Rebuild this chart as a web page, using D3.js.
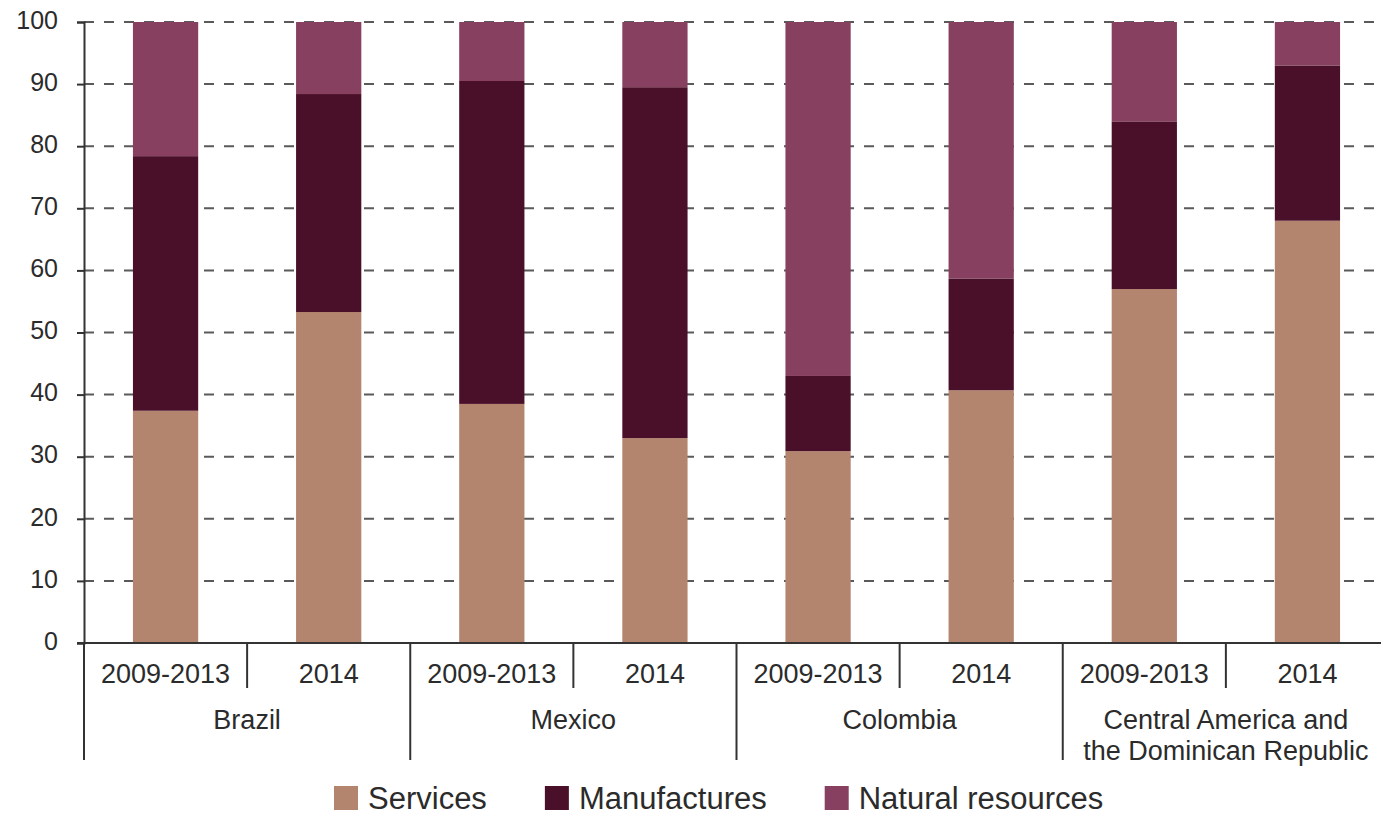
<!DOCTYPE html>
<html>
<head>
<meta charset="utf-8">
<script src="https://cdn.jsdelivr.net/npm/d3@7"></script>
<style>
  html, body { margin: 0; padding: 0; background: #fff; }
  svg { display: block; font-family: "Liberation Sans", Arial, sans-serif; }
</style>
</head>
<body>
<svg id="chart" width="1381" height="815"></svg>
<script>
// Export composition by country group and period (percentages)
const groups = ["Brazil", "Mexico", "Colombia", "Central America and|the Dominican Republic"];
const periods = ["2009-2013", "2014"];
const services      = [37.4, 53.3, 38.5, 33.0, 30.9, 40.7, 57.0, 68.0];
const manufactures  = [41.0, 35.1, 52.0, 56.5, 12.1, 18.0, 27.0, 25.0];
const naturalRes    = [21.6, 11.6,  9.5, 10.5, 57.0, 41.3, 16.0,  7.0];
const seriesNames   = ["Services", "Manufactures", "Natural resources"];
const seriesColors  = ["#b3856f", "#4b1029", "#87405f"];
const yTicks = [0, 10, 20, 30, 40, 50, 60, 70, 80, 90, 100];

const svg = d3.select("#chart");
const W = 1381;
const plotLeft = 84, plotTop = 22, plotBottom = 643;

// one bar per (group, period)
const bars = [];
groups.forEach((g, gi) => periods.forEach((p, pi) => {
  const i = gi * periods.length + pi;
  bars.push({ key: g + "/" + p, group: g, period: p, gi, pi,
              values: [services[i], manufactures[i], naturalRes[i]] });
}));

const x = d3.scaleBand()
  .domain(bars.map(d => d.key))
  .range([plotLeft, 1389])
  .paddingInner(0.6)
  .paddingOuter(0.3);
const step = x.step();
const y = d3.scaleLinear().domain([0, 100]).range([plotBottom, plotTop]);

// dashed gridlines
svg.append("g")
  .selectAll("line")
  .data(yTicks.filter(t => t > 0))
  .join("line")
  .attr("x1", plotLeft).attr("x2", W)
  .attr("y1", d => y(d)).attr("y2", d => y(d))
  .attr("stroke", "#5a5a5a")
  .attr("stroke-width", 2)
  .attr("stroke-dasharray", "10,10");

// stacked bars
const stack = d3.stack().keys([0, 1, 2]).value((d, k) => d.values[k]);
const layers = stack(bars);
svg.append("g")
  .selectAll("g")
  .data(layers)
  .join("g")
  .attr("fill", (d, i) => seriesColors[i])
  .selectAll("rect")
  .data(d => d)
  .join("rect")
  .attr("x", d => x(d.data.key))
  .attr("width", x.bandwidth())
  .attr("y", d => y(d[1]))
  .attr("height", d => y(d[0]) - y(d[1]));

// y axis
const yAxis = d3.axisLeft(y)
  .tickValues(yTicks)
  .tickSize(7)
  .tickPadding(19);
const ya = svg.append("g")
  .attr("transform", `translate(${plotLeft},0)`)
  .call(yAxis);
ya.select(".domain").attr("stroke", "#333").attr("stroke-width", 2);
ya.selectAll(".tick line").attr("stroke", "#333").attr("stroke-width", 2);
ya.selectAll(".tick text")
  .attr("fill", "#2b2b2b")
  .attr("font-size", 25)
  .attr("font-family", "Liberation Sans, Arial, sans-serif")
  .attr("dy", "0.25em");

// x baseline
svg.append("line")
  .attr("x1", plotLeft - 7).attr("x2", W)
  .attr("y1", y(0)).attr("y2", y(0))
  .attr("stroke", "#333").attr("stroke-width", 2);

// separators between periods and groups
const seps = bars.map(d => ({ xPos: x(d.key) + x.bandwidth() / 2 - step / 2, isGroup: d.pi === 0 }));
svg.append("g")
  .selectAll("line")
  .data(seps)
  .join("line")
  .attr("x1", d => d.xPos).attr("x2", d => d.xPos)
  .attr("y1", y(0))
  .attr("y2", d => d.isGroup ? 760 : 688)
  .attr("stroke", "#333")
  .attr("stroke-width", 2);

// period labels
svg.append("g")
  .selectAll("text")
  .data(bars)
  .join("text")
  .attr("x", d => x(d.key) + x.bandwidth() / 2)
  .attr("y", 683)
  .attr("text-anchor", "middle")
  .attr("font-size", 27)
  .attr("fill", "#2b2b2b")
  .text(d => d.period);

// group labels
const groupLabels = svg.append("g")
  .selectAll("text")
  .data(groups)
  .join("text")
  .attr("x", (g, gi) => {
    const a = x(bars[gi * 2].key), b = x(bars[gi * 2 + 1].key) + x.bandwidth();
    return (a + b) / 2;
  })
  .attr("y", 729)
  .attr("text-anchor", "middle")
  .attr("font-size", 27)
  .attr("fill", "#2b2b2b");
groupLabels.each(function (g) {
  const lines = g.split("|");
  const t = d3.select(this);
  const cx = t.attr("x");
  lines.forEach((ln, li) => {
    t.append("tspan").attr("x", cx).attr("dy", li === 0 ? 0 : 31).text(ln);
  });
});

// legend
const legend = svg.append("g");
let lx = 334;
seriesNames.forEach((name, i) => {
  const item = legend.append("g").attr("transform", `translate(${lx},0)`);
  item.append("rect")
    .attr("x", 0).attr("y", 786)
    .attr("width", 24).attr("height", 24)
    .attr("fill", seriesColors[i]);
  const txt = item.append("text")
    .attr("x", 34).attr("y", 809)
    .attr("font-size", 31)
    .attr("fill", "#2b2b2b")
    .text(name);
  const w = txt.node().getComputedTextLength();
  lx += 34 + w + 58;
});
</script>
</body>
</html>
